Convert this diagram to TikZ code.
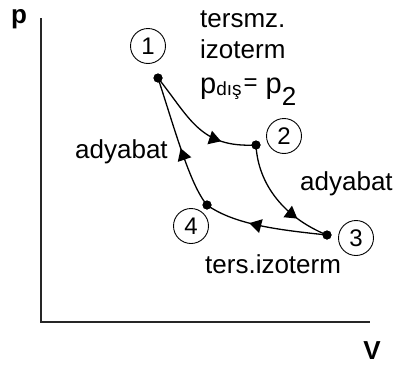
\documentclass[tikz,border=0pt]{standalone}
\usepackage{fontspec}
\setmainfont{Liberation Sans}
\usetikzlibrary{arrows.meta,decorations.markings}
\begin{document}
\begin{tikzpicture}[x=1pt,y=-1pt,
  lbl/.style={inner sep=0pt, anchor=base west, font=\fontsize{26}{30}\selectfont},
  num/.style={draw, circle, minimum size=35pt, inner sep=0pt, line width=0.9pt, font=\fontsize{24}{26}\selectfont},
  dotnode/.style={circle, fill, inner sep=0pt, minimum size=9pt},
  axis/.style={line width=1.6pt, black!85},
  proc/.style={line width=1.3pt, postaction={decorate},
    decoration={markings, mark=at position #1 with {\arrow{Triangle[length=12pt,width=14pt]}}}},
]
\useasboundingbox (0,0) rectangle (394,367);
% axes
\coordinate (ytop) at (41,18);
\coordinate (orig) at (41,322);
\coordinate (xend) at (370,322);
\draw[axis] (ytop) -- (orig) -- (xend);
\node[inner sep=0pt, font=\fontsize{26}{30}\selectfont\bfseries] (plab) at (19,19) {p};
\node[inner sep=0pt, font=\fontsize{26}{30}\selectfont\bfseries] (vlab) at (372,351) {V};
% states
\node[dotnode] (p1) at (158,78) {};
\node[dotnode] (p2) at (256,145) {};
\node[dotnode] (p3) at (327,235) {};
\node[dotnode] (p4) at (207,205) {};
% processes
\draw[proc=0.72] (p1.center) .. controls (190,118) and (200,148) .. (p2.center);
\draw[proc=0.72] (p2.center) .. controls (258,185) and (285,218) .. (p3.center);
\draw[proc=0.63] (p3.center) .. controls (280,230) and (235,225) .. (p4.center);
\draw[proc=0.46] (p4.center) .. controls (190,185) and (175,130) .. (p1.center);
% redraw dots on top
\foreach \p in {p1,p2,p3,p4} \fill (\p) circle (4.5pt);
% circled numbers
\node[num] (n1) at (148,46) {1};
\node[num] (n2) at (284,136) {2};
\node[num] (n3) at (356,238) {3};
\node[num] (n4) at (191,226) {4};
% texts
\node[lbl] (t1) at (200,27) {tersmz.};
\node[lbl] (t2) at (200,58) {izoterm};
\node[lbl, font=\fontsize{29}{30}\selectfont] (t3) at (200,93) {p\raisebox{-2pt}{\fontsize{19}{20}\selectfont dış}\kern2pt\raisebox{3pt}{\fontsize{24}{26}\selectfont =} p\raisebox{-12pt}{\fontsize{26}{26}\selectfont 2}};
\node[lbl] (a1) at (75,158) {adyabat};
\node[lbl] (a2) at (300,190) {adyabat};
\node[lbl] (t4) at (205,273) {ters.izoterm};
\end{tikzpicture}
\end{document}
